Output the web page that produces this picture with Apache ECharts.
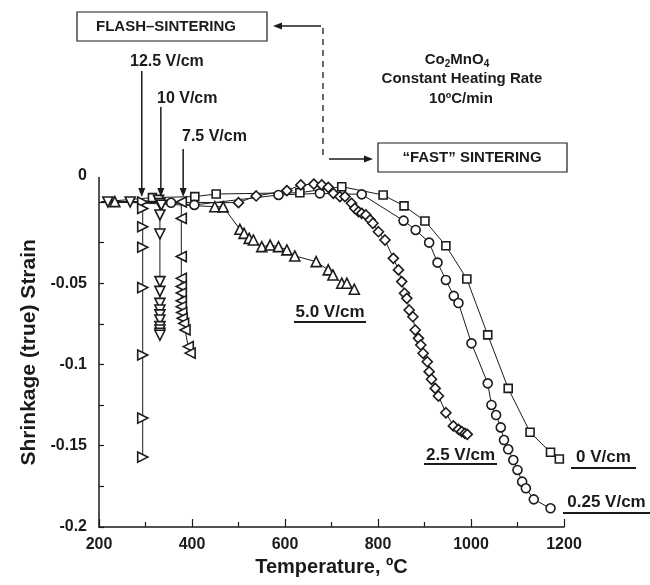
<!DOCTYPE html>
<html>
<head>
<meta charset="utf-8">
<script src="https://cdn.jsdelivr.net/npm/echarts@6/dist/echarts.min.js"></script>
<style>
  html, body { margin: 0; padding: 0; background: #fff; }
  #chart { width: 650px; height: 585px; }
</style>
</head>
<body>
<div id="chart"></div>
<script>
// [temperature ºC, true strain]
const V0_CM = [[205, 0], [315, 0.0027], [406, 0.0033], [452, 0.0049], [632, 0.0057], [722, 0.0094], [811, 0.0043], [856, -0.0024], [901, -0.0117], [946, -0.0269], [991, -0.0474], [1036, -0.0818], [1080, -0.1147], [1127, -0.1417], [1171, -0.154], [1190, -0.1582]]
const V025_CM = [[205, 0], [355, -0.0005], [405, -0.0018], [586, 0.0043], [675, 0.0053], [765, 0.0047], [855, -0.0115], [881, -0.0172], [910, -0.025], [928, -0.0373], [946, -0.048], [963, -0.0578], [973, -0.0622], [1001, -0.087], [1036, -0.1116], [1044, -0.1249], [1054, -0.1311], [1064, -0.1387], [1071, -0.1465], [1080, -0.1522], [1091, -0.1588], [1100, -0.1649], [1110, -0.1721], [1118, -0.1762], [1135, -0.183], [1171, -0.1885]]
const V25_CM = [[205, 0], [500, -0.0004], [538, 0.0037], [604, 0.007], [634, 0.0105], [662, 0.011], [679, 0.0105], [693, 0.009], [704, 0.0053], [718, 0.0033], [729, 0.0033], [743, -0.0008], [750, -0.0039], [758, -0.006], [765, -0.007], [774, -0.008], [783, -0.011], [789, -0.0131], [801, -0.0183], [815, -0.0234], [833, -0.0347], [844, -0.0418], [851, -0.049], [857, -0.0562], [862, -0.0593], [867, -0.0665], [875, -0.0706], [880, -0.0788], [887, -0.0839], [892, -0.088], [897, -0.0931], [906, -0.0983], [910, -0.1044], [915, -0.1091], [923, -0.1147], [930, -0.1194], [946, -0.1297], [962, -0.1378], [973, -0.1399], [980, -0.1413], [987, -0.1424], [992, -0.143]]
const V50_CM = [[205, 0], [234, 0.0002], [449, -0.0029], [467, -0.003], [503, -0.0168], [512, -0.0193], [523, -0.0224], [532, -0.0234], [550, -0.0275], [568, -0.0265], [586, -0.0275], [604, -0.0295], [621, -0.0332], [667, -0.0367], [693, -0.0418], [703, -0.0449], [722, -0.05], [733, -0.05], [749, -0.0537]]
const V75_CM = [[205, 0], [377, 0], [377, -0.0101], [377, -0.0336], [377, -0.047], [377, -0.052], [377, -0.056], [377, -0.0608], [377, -0.0644], [378, -0.068], [379, -0.0716], [382, -0.0747], [385, -0.0788], [392, -0.089], [396, -0.093]]
const V10_CM = [[205, 0], [219, 0], [267, 0], [328, 0.001], [331, -0.001], [334, -0.002], [331, -0.008], [331, -0.0197], [331, -0.049], [331, -0.055], [331, -0.0624], [331, -0.0665], [331, -0.0695], [331, -0.0726], [331, -0.0767], [331, -0.0788], [331, -0.0808], [331, -0.082]]
const V125_CM = [[205, 0], [294, 0], [294, -0.004], [294, -0.0152], [294, -0.0279], [294, -0.0527], [294, -0.0942], [294, -0.133], [294, -0.157]]

const Y_TICKS = [-0.2, -0.175, -0.15, -0.125, -0.1, -0.075, -0.05, -0.025, 0]
const Y_LABELS = [-0.2, -0.15, -0.1, -0.05]
const FLASH_LABELS = ['12.5 V/cm', '10 V/cm', '7.5 V/cm']
const FLASH_TEMPS = [292, 333, 381]

const INK = '#1b1b1b'
const FONT = '"Liberation Sans", Arial, Helvetica, sans-serif'

const SERIES = [
  { name: '0 V/cm', data: V0_CM, symbol: 'rect', size: 8, rotate: 0 },
  { name: '0.25 V/cm', data: V025_CM, symbol: 'circle', size: 9, rotate: 0 },
  { name: '2.5 V/cm', data: V25_CM, symbol: 'diamond', size: 10, rotate: 0 },
  { name: '5.0 V/cm', data: V50_CM, symbol: 'triangle', size: 10, rotate: 0 },
  { name: '7.5 V/cm', data: V75_CM, symbol: 'triangle', size: 10, rotate: 90 },
  { name: '10 V/cm', data: V10_CM, symbol: 'triangle', size: 10, rotate: 180 },
  { name: '12.5 V/cm', data: V125_CM, symbol: 'triangle', size: 10, rotate: -90 },
]

const chart = echarts.init(document.getElementById('chart'))

chart.setOption({
  animation: false,
  backgroundColor: '#fff',
  textStyle: { fontFamily: FONT },
  grid: { left: 99, right: 86, top: 177.6, bottom: 58, containLabel: false },
  xAxis: {
    type: 'value',
    min: 200,
    max: 1200,
    interval: 200,
    axisLine: { show: true, onZero: false, lineStyle: { color: INK, width: 1.5 } },
    axisTick: { show: true, inside: true, length: 8, lineStyle: { color: INK, width: 1.2 } },
    minorTick: { show: true, splitNumber: 2, length: 5, lineStyle: { color: INK, width: 1.2 } },
    axisLabel: { formatter: (v) => String(v), color: INK, fontSize: 16, fontWeight: 'bold', margin: 10, fontFamily: FONT },
    splitLine: { show: false },
    name: 'Temperature, ºC',
    nameLocation: 'middle',
    nameGap: 30,
    nameTextStyle: { color: INK, fontSize: 20, fontWeight: 'bold', fontFamily: FONT },
  },
  yAxis: {
    type: 'value',
    min: -0.2,
    max: 0.015,
    axisLine: { show: true, onZero: false, lineStyle: { color: INK, width: 1.5 } },
    axisTick: { show: true, inside: true, length: 5, customValues: Y_TICKS, lineStyle: { color: INK, width: 1.2 } },
    axisLabel: {
      customValues: Y_LABELS,
      formatter: (v) => String(v),
      color: INK,
      fontSize: 16,
      fontWeight: 'bold',
      margin: 12,
      fontFamily: FONT,
    },
    splitLine: { show: false },
    name: 'Shrinkage (true) Strain',
    nameLocation: 'middle',
    nameGap: 58,
    nameTextStyle: { color: INK, fontSize: 21, fontWeight: 'bold', fontFamily: FONT },
  },
  series: SERIES.map((s) => ({
    name: s.name,
    type: 'line',
    data: s.data.map((p, i) => (i === 0 ? { value: p, symbol: 'none' } : p)),
    symbol: s.symbol,
    symbolSize: s.size,
    symbolRotate: s.rotate,
    showAllSymbol: true,
    clip: false,
    lineStyle: { color: INK, width: 1 },
    itemStyle: { color: '#fff', borderColor: INK, borderWidth: 1.6 },
    emphasis: { disabled: true },
    z: 2,
  })),
})

function arrow(x1, y1, x2, y2) {
  const ang = Math.atan2(y2 - y1, x2 - x1)
  const len = 9
  const half = 3.5
  const bx = x2 - len * Math.cos(ang)
  const by = y2 - len * Math.sin(ang)
  return [
    { type: 'line', shape: { x1, y1, x2: bx, y2: by }, style: { stroke: INK, lineWidth: 1.5 }, z: 10 },
    {
      type: 'polygon',
      shape: {
        points: [
          [x2, y2],
          [bx + half * Math.sin(ang), by - half * Math.cos(ang)],
          [bx - half * Math.sin(ang), by + half * Math.cos(ang)],
        ],
      },
      style: { fill: INK },
      z: 10,
    },
  ]
}

function label(text, x, y, opts = {}) {
  return {
    type: 'text',
    x,
    y,
    style: {
      text,
      fill: INK,
      font: `bold ${opts.size || 16}px ${FONT}`,
      align: opts.align || 'center',
      verticalAlign: 'middle',
      rich: opts.rich,
    },
    z: 10,
  }
}

function underlined(text, x1, x2, y, lineY) {
  return [
    label(text, (x1 + x2) / 2, y, { size: 17 }),
    { type: 'line', shape: { x1, y1: lineY, x2, y2: lineY }, style: { stroke: INK, lineWidth: 2 }, z: 10 },
  ]
}

const graphic = []
// voltage labels with arrows down to the onset of flash
const labelPos = [[130, 62, 71], [157, 99, 107], [182, 137, 149]]
FLASH_TEMPS.forEach((t, i) => {
  const [px, py] = chart.convertToPixel({ gridIndex: 0 }, [t, 0.003])
  const [lx, ly, top] = labelPos[i]
  graphic.push(label(FLASH_LABELS[i], lx, ly, { size: 16, align: 'left' }))
  graphic.push(...arrow(px, top, px, py))
})

// the zero label sits at the top of the axis in the original
graphic.push(label('0', 87, 176, { size: 16, align: 'right' }))

graphic.push(...underlined('5.0 V/cm', 294, 366, 312, 322))
graphic.push(...underlined('2.5 V/cm', 424, 497, 455, 464))
graphic.push(...underlined('0 V/cm', 571, 636, 457, 468))
graphic.push(...underlined('0.25 V/cm', 563, 650, 502, 513))

// boxes and the flash / fast link
graphic.push({ type: 'rect', shape: { x: 77, y: 12, width: 190, height: 29 }, style: { fill: '#fff', stroke: INK, lineWidth: 1.2 }, z: 9 })
graphic.push(label('FLASH–SINTERING', 166, 26.5, { size: 15 }))
graphic.push({ type: 'rect', shape: { x: 378, y: 143, width: 189, height: 29 }, style: { fill: '#fff', stroke: INK, lineWidth: 1.2 }, z: 9 })
graphic.push(label('“FAST” SINTERING', 472, 157.5, { size: 15 }))
graphic.push(...arrow(321, 26, 273, 26))
graphic.push({ type: 'line', shape: { x1: 323, y1: 28, x2: 323, y2: 159 }, style: { stroke: INK, lineWidth: 1.3, lineDash: [6, 5] }, z: 10 })
graphic.push(...arrow(329, 159, 373, 159))

graphic.push(label('Co{s|2}MnO{s|4}', 457, 60, {
  size: 15,
  rich: { s: { fontSize: 10, fontWeight: 'bold', verticalAlign: 'bottom', padding: [8, 0, 0, 0], fill: INK } },
}))
graphic.push(label('Constant Heating Rate', 462, 79, { size: 15 }))
graphic.push(label('10ºC/min', 461, 99, { size: 15 }))

chart.setOption({ graphic })
</script>
</body>
</html>
